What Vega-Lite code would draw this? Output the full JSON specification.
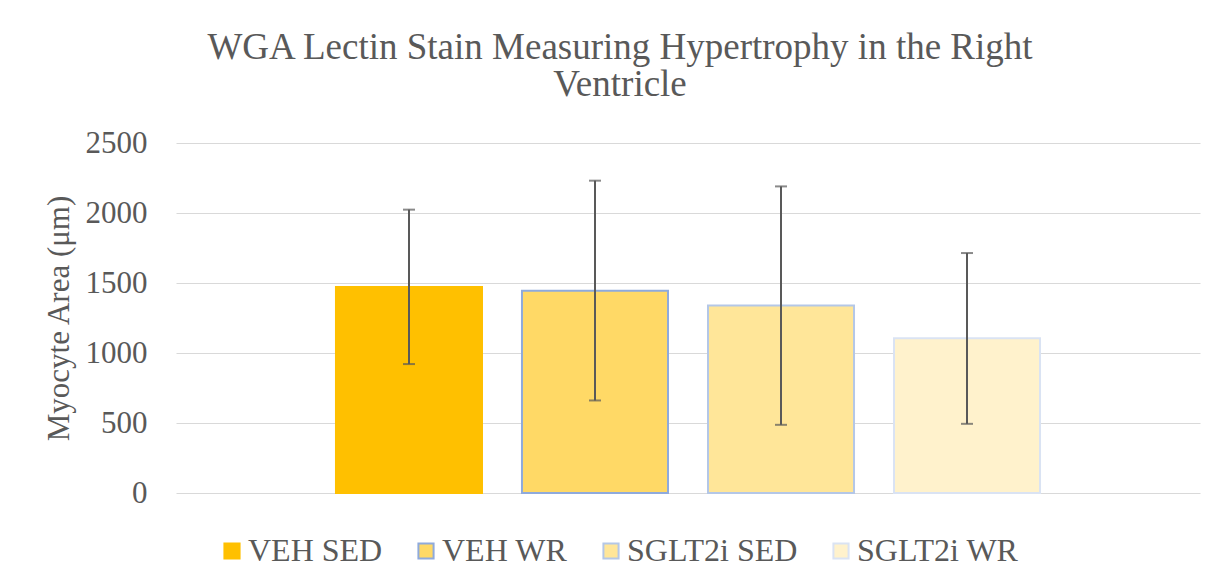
{
  "$schema": "https://vega.github.io/schema/vega-lite/v6.json",
  "autosize": "none",
  "width": 1024,
  "height": 350,
  "padding": {"left": 176, "top": 143, "right": 21, "bottom": 93},
  "background": "white",
  "config": {
    "font": "'Liberation Serif', 'Times New Roman', serif",
    "view": {"stroke": null}
  },
  "title": {
    "text": ["WGA Lectin Stain Measuring Hypertrophy in the Right", "Ventricle"],
    "font": "'Liberation Serif', 'Times New Roman', serif",
    "fontSize": 37,
    "fontWeight": "normal",
    "color": "#595959",
    "lineHeight": 37,
    "anchor": "middle",
    "dx": -68,
    "offset": 23
  },
  "data": {
    "values": [
      {"group": "VEH SED", "mean": 1472, "lo": 921, "hi": 2024},
      {"group": "VEH WR", "mean": 1445, "lo": 661, "hi": 2231},
      {"group": "SGLT2i SED", "mean": 1339, "lo": 487, "hi": 2190},
      {"group": "SGLT2i WR", "mean": 1105, "lo": 494, "hi": 1714}
    ]
  },
  "encoding": {
    "x": {
      "field": "group",
      "type": "nominal",
      "sort": ["VEH SED", "VEH WR", "SGLT2i SED", "SGLT2i WR"],
      "scale": {"paddingInner": 0.215, "paddingOuter": 0.86},
      "axis": null
    }
  },
  "layer": [
    {
      "mark": {"type": "bar", "strokeWidth": 2},
      "encoding": {
        "y": {
          "field": "mean",
          "type": "quantitative",
          "scale": {"domain": [0, 2500], "nice": false},
          "axis": {
            "title": "Myocyte Area (μm)",
            "values": [0, 500, 1000, 1500, 2000, 2500],
            "format": "d",
            "domain": false,
            "ticks": false,
            "labelPadding": 29,
            "labelFont": "'Liberation Serif', 'Times New Roman', serif",
            "labelFontSize": 31,
            "labelColor": "#595959",
            "titleFont": "'Liberation Serif', 'Times New Roman', serif",
            "titleFontSize": 31,
            "titleFontWeight": "normal",
            "titleColor": "#595959",
            "titlePadding": 10,
            "gridColor": "#D9D9D9",
            "gridWidth": 1.2
          }
        },
        "fill": {
          "field": "group",
          "type": "nominal",
          "sort": ["VEH SED", "VEH WR", "SGLT2i SED", "SGLT2i WR"],
          "scale": {
            "domain": ["VEH SED", "VEH WR", "SGLT2i SED", "SGLT2i WR"],
            "range": ["#FFC000", "#FFD966", "#FFE699", "#FFF2CC"]
          },
          "legend": {
            "title": null,
            "orient": "none",
            "legendX": 40,
            "legendY": 392,
            "direction": "horizontal",
            "columns": 4,
            "symbolType": "square",
            "symbolSize": 230,
            "symbolStrokeWidth": 2,
            "labelFont": "'Liberation Serif', 'Times New Roman', serif",
            "labelFontSize": 32,
            "labelColor": "#595959",
            "labelOffset": 0,
            "labelLimit": 400,
            "columnPadding": 27,
            "padding": 0
          }
        },
        "stroke": {
          "field": "group",
          "type": "nominal",
          "sort": ["VEH SED", "VEH WR", "SGLT2i SED", "SGLT2i WR"],
          "scale": {
            "domain": ["VEH SED", "VEH WR", "SGLT2i SED", "SGLT2i WR"],
            "range": ["#FFC000", "#8FAADC", "#B4C7E7", "#DAE3F3"]
          },
          "legend": {
            "title": null,
            "orient": "none",
            "legendX": 40,
            "legendY": 392,
            "direction": "horizontal",
            "columns": 4,
            "symbolType": "square",
            "symbolSize": 230,
            "symbolStrokeWidth": 2,
            "labelFont": "'Liberation Serif', 'Times New Roman', serif",
            "labelFontSize": 32,
            "labelColor": "#595959",
            "labelOffset": 0,
            "labelLimit": 400,
            "columnPadding": 27,
            "padding": 0
          }
        }
      }
    },
    {
      "mark": {"type": "rule", "color": "#595959", "strokeWidth": 2},
      "encoding": {
        "y": {"field": "lo", "type": "quantitative"},
        "y2": {"field": "hi"}
      }
    },
    {
      "mark": {"type": "tick", "color": "#595959", "size": 12, "thickness": 2},
      "encoding": {
        "y": {"field": "lo", "type": "quantitative"}
      }
    },
    {
      "mark": {"type": "tick", "color": "#595959", "size": 12, "thickness": 2},
      "encoding": {
        "y": {"field": "hi", "type": "quantitative"}
      }
    }
  ]
}
